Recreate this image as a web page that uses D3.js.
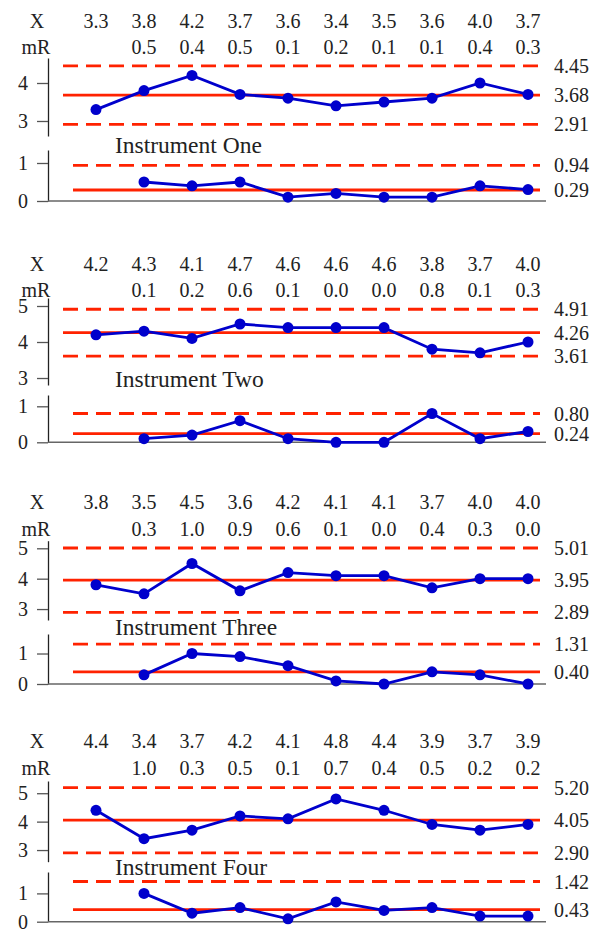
<!DOCTYPE html>
<html>
<head>
<meta charset="utf-8">
<script src="https://cdn.jsdelivr.net/npm/d3@7"></script>
<style>
    body { margin: 0; background: #fff; }
    svg { display: block; }
</style>
</head>
<body>
<div id="svgcontainer"></div>
<script>
const WIDTH = 594
const HEIGHT = 931
const FONT = "Liberation Serif"

const titles = ["Instrument One", "Instrument Two", "Instrument Three", "Instrument Four"]

const oneX = [3.3, 3.8, 4.2, 3.7, 3.6, 3.4, 3.5, 3.6, 4.0, 3.7]
const oneMR = [null, 0.5, 0.4, 0.5, 0.1, 0.2, 0.1, 0.1, 0.4, 0.3]
const oneLimits = [4.45, 3.68, 2.91]
const oneMRLimits = [0.94, 0.29]

const twoX = [4.2, 4.3, 4.1, 4.7, 4.6, 4.6, 4.6, 3.8, 3.7, 4.0]
// in the original the dots for 4.7 / 4.6 sit lower than the printed values
const twoXPlotted = [4.2, 4.3, 4.1, 4.5, 4.4, 4.4, 4.4, 3.8, 3.7, 4.0]
const twoMR = [null, 0.1, 0.2, 0.6, 0.1, 0.0, 0.0, 0.8, 0.1, 0.3]
const twoLimits = [4.91, 4.26, 3.61]
const twoMRLimits = [0.80, 0.24]

const threeX = [3.8, 3.5, 4.5, 3.6, 4.2, 4.1, 4.1, 3.7, 4.0, 4.0]
const threeMR = [null, 0.3, 1.0, 0.9, 0.6, 0.1, 0.0, 0.4, 0.3, 0.0]
const threeLimits = [5.01, 3.95, 2.89]
const threeMRLimits = [1.31, 0.40]

const fourX = [4.4, 3.4, 3.7, 4.2, 4.1, 4.8, 4.4, 3.9, 3.7, 3.9]
const fourMR = [null, 1.0, 0.3, 0.5, 0.1, 0.7, 0.4, 0.5, 0.2, 0.2]
const fourLimits = [5.20, 4.05, 2.90]
const fourMRLimits = [1.42, 0.43]

const xTicks = [[3, 4], [3, 4, 5], [3, 4, 5], [3, 4, 5]]
const mrTicks = [0, 1]

const instruments = [
    { x: oneX, plot: oneX, mr: oneMR, limits: oneLimits, mrLimits: oneMRLimits },
    { x: twoX, plot: twoXPlotted, mr: twoMR, limits: twoLimits, mrLimits: twoMRLimits },
    { x: threeX, plot: threeX, mr: threeMR, limits: threeLimits, mrLimits: threeMRLimits },
    { x: fourX, plot: fourX, mr: fourMR, limits: fourLimits, mrLimits: fourMRLimits },
]

// layout of each panel (pixel rows and the value span of each axis)
const panels = [
    { xRow: 28, mrRow: 54, titleY: 153, xRange: [136, 58], xDomain: [2.605, 4.658], mrRange: [201, 150], mrDomain: [0, 1.342] },
    { xRow: 271, mrRow: 297, titleY: 387, xRange: [385, 298], xDomain: [2.806, 5.222], mrRange: [442.3, 395], mrDomain: [0, 1.314] },
    { xRow: 509, mrRow: 536, titleY: 635, xRange: [620, 540.7], xDomain: [2.64, 5.25], mrRange: [684, 634], mrDomain: [0, 1.64] },
    { xRow: 748, mrRow: 775, titleY: 875, xRange: [861.7, 781], xDomain: [2.59, 5.43], mrRange: [921.7, 872], mrDomain: [0, 1.756] },
]

const RED = "#ff2200"
const BLUE = "#0000cc"
const AXIS_X = 48
const LINE_END = 540

const svg = d3.select("#svgcontainer")
    .append("svg")
    .attr("width", WIDTH)
    .attr("height", HEIGHT)
    .attr("viewBox", [0, 0, WIDTH, HEIGHT])

instruments.forEach((d, i) => renderPanel(d, panels[i], titles[i], xTicks[i]))

// every text gets the family directly
svg.selectAll("text").attr("font-family", FONT)

function renderPanel(d, p, title, ticks) {
    let x = d3.scalePoint()
        .domain(d3.range(d.x.length))
        .range([96, 528])
    let yX = d3.scaleLinear().domain(p.xDomain).range(p.xRange)
    let yR = d3.scaleLinear().domain(p.mrDomain).range(p.mrRange)

    let g = svg.append("g")
        .attr("fill", "#222")
        .attr("font-size", 20)

    // header rows
    g.append("text")
        .attr("x", 37)
        .attr("y", p.xRow)
        .attr("text-anchor", "middle")
        .text("X")
    g.append("text")
        .attr("x", 36)
        .attr("y", p.mrRow)
        .attr("text-anchor", "middle")
        .text("mR")

    g.append("g")
        .selectAll("text")
        .data(d.x)
        .join("text")
            .attr("x", (v, i) => x(i))
            .attr("y", p.xRow)
            .attr("text-anchor", "middle")
            .text(v => v.toFixed(1))

    g.append("g")
        .selectAll("text")
        .data(d.mr.map((v, i) => ({ v: v, i: i })).filter(o => o.v !== null))
        .join("text")
            .attr("x", o => x(o.i))
            .attr("y", p.mrRow)
            .attr("text-anchor", "middle")
            .text(o => o.v.toFixed(1))

    // axes
    let axX = g.append("g")
        .attr("transform", `translate(${AXIS_X},0)`)
        .call(d3.axisLeft(yX).tickValues(ticks).tickSize(11).tickSizeOuter(0).tickPadding(9).tickFormat(d3.format("d")))
    let axR = g.append("g")
        .attr("transform", `translate(${AXIS_X},0)`)
        .call(d3.axisLeft(yR).tickValues(mrTicks).tickSize(11).tickSizeOuter(0).tickPadding(9).tickFormat(d3.format("d")))
    ;[axX, axR].forEach(ax => {
        ax.attr("font-size", 20).attr("font-family", FONT)
        ax.select(".domain").attr("stroke", "#222").attr("stroke-width", 1.3)
        ax.selectAll(".tick line").attr("stroke", "#555").attr("stroke-width", 1.3)
        ax.selectAll(".tick text").attr("fill", "#222")
    })

    g.append("line")
        .attr("x1", AXIS_X)
        .attr("x2", 546)
        .attr("y1", yR(0))
        .attr("y2", yR(0))
        .attr("stroke", "#666")
        .attr("stroke-width", 1.5)

    // title
    g.append("text")
        .attr("x", 115)
        .attr("y", p.titleY)
        .attr("font-size", 23.5)
        .text(title)

    // control limits
    let lines = g.append("g")
        .attr("stroke", RED)
        .attr("stroke-width", 2.8)
    d.limits.forEach((v, k) => {
        lines.append("line")
            .attr("x1", 63)
            .attr("x2", LINE_END)
            .attr("y1", yX(v))
            .attr("y2", yX(v))
            .attr("stroke-dasharray", k === 1 ? null : "15,8")
    })
    d.mrLimits.forEach((v, k) => {
        lines.append("line")
            .attr("x1", 73)
            .attr("x2", LINE_END)
            .attr("y1", yR(v))
            .attr("y2", yR(v))
            .attr("stroke-dasharray", k === 1 ? null : "15,8")
    })

    g.append("g")
        .selectAll("text")
        .data(d.limits.map(v => yX(v)).concat(d.mrLimits.map(v => yR(v))))
        .join("text")
            .attr("x", 554)
            .attr("y", (yy, k) => yy + 7)
            .text((yy, k) => k < 3 ? d.limits[k].toFixed(2) : d.mrLimits[k - 3].toFixed(2))

    // series
    g.append("path")
        .datum(d.plot)
        .attr("d", d3.line().x((v, i) => x(i)).y(v => yX(v)))
        .attr("fill", "none")
        .attr("stroke", BLUE)
        .attr("stroke-width", 2.8)
    g.append("g")
        .selectAll("circle")
        .data(d.plot)
        .join("circle")
            .attr("cx", (v, i) => x(i))
            .attr("cy", v => yX(v))
            .attr("r", 5.5)
            .attr("fill", BLUE)

    g.append("path")
        .datum(d.mr)
        .attr("d", d3.line().defined(v => v !== null).x((v, i) => x(i)).y(v => yR(v)))
        .attr("fill", "none")
        .attr("stroke", BLUE)
        .attr("stroke-width", 2.8)
    g.append("g")
        .selectAll("circle")
        .data(d.mr.map((v, i) => ({ v: v, i: i })).filter(o => o.v !== null))
        .join("circle")
            .attr("cx", o => x(o.i))
            .attr("cy", o => yR(o.v))
            .attr("r", 5.5)
            .attr("fill", BLUE)
}
</script>
</body>
</html>
